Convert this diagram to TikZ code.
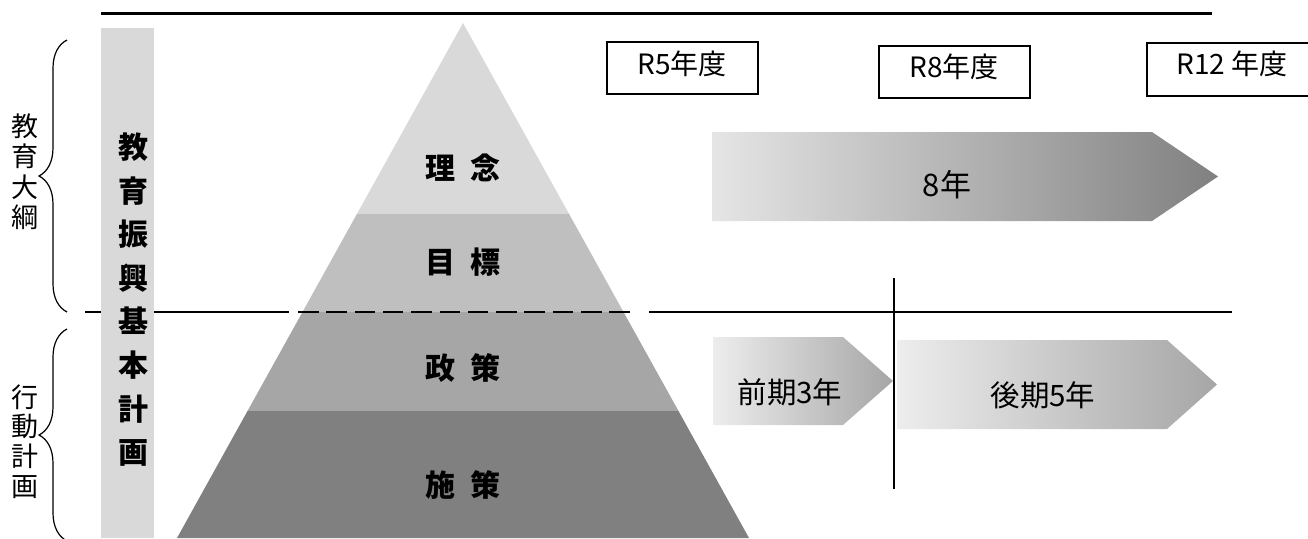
\documentclass[tikz,border=0pt]{standalone}
\usepackage{fontspec}
\setmainfont{Noto Sans CJK JP}
\usetikzlibrary{decorations.pathreplacing}
\definecolor{bandA}{HTML}{D9D9D9}
\definecolor{bandB}{HTML}{BFBFBF}
\definecolor{bandC}{HTML}{A6A6A6}
\definecolor{bandD}{HTML}{808080}
\definecolor{barcol}{HTML}{D9D9D9}
\definecolor{eightL}{HTML}{E5E5E5}
\definecolor{eightM}{HTML}{C6C6C6}
\definecolor{eightR}{HTML}{808080}
\definecolor{smallL}{HTML}{EDEDED}
\definecolor{smallM}{HTML}{D2D2D2}
\definecolor{smallR}{HTML}{A6A6A6}
\begin{document}
\begin{tikzpicture}[x=1pt,y=-1pt,
  lbl/.style={inner sep=0pt,anchor=base,text=black},
  sidelbl/.style={lbl,font=\fontsize{27}{30}\selectfont},
  boldlbl/.style={lbl,font=\fontsize{30}{32}\selectfont\bfseries},
  yearlbl/.style={lbl,font=\fontsize{28}{30}\selectfont},
  perlbl/.style={lbl,font=\fontsize{29.5}{31}\selectfont},
  yearbox/.style={draw=black,line width=1.2pt,fill=white},
  bracestyle/.style={draw=black,line width=1.2pt,decorate,decoration={brace,amplitude=28pt}},
  divline/.style={draw=black,line width=2.4pt},
  eightarrow/.style={left color=eightL,middle color=eightM,right color=eightR},
  smallarrow/.style={left color=smallL,middle color=smallM,right color=smallR}]
\useasboundingbox (0,0) rectangle (1308,538);

% top rule
\coordinate (topL) at (101,13);
\coordinate (topR) at (1212,13);
\draw[line width=3pt] (topL) -- (topR);

% left solid part of divider (behind the bar)
\coordinate (divA) at (85,312);
\coordinate (divB) at (289,312);
\draw[divline] (divA) -- (divB);

% vertical bar
\fill[barcol] (101,28) rectangle (154,538);

% pyramid bands
\coordinate (apex) at (463,23);
\coordinate (l1) at (356.9,214);  \coordinate (r1) at (569.1,214);
\coordinate (l2) at (302.5,312);  \coordinate (r2) at (623.5,312);
\coordinate (l3) at (247.5,411);  \coordinate (r3) at (678.5,411);
\coordinate (l4) at (177,538);    \coordinate (r4) at (749,538);
\fill[bandA] (apex) -- (r1) -- (l1) -- cycle;
\fill[bandB] (l1) -- (r1) -- (r2) -- (l2) -- cycle;
\fill[bandC] (l2) -- (r2) -- (r3) -- (l3) -- cycle;
\fill[bandD] (l3) -- (r3) -- (r4) -- (l4) -- cycle;

% dashed and right parts of divider
\coordinate (dashA) at (298,312);
\coordinate (dashB) at (630,312);
\draw[draw=black,line width=2.4pt,dash pattern=on 20.5pt off 7.8pt] (dashA) -- (dashB);
\coordinate (divC) at (649,312);
\coordinate (divD) at (1232,312);
\draw[divline] (divC) -- (divD);

% vertical divider
\coordinate (vT) at (894,278);
\coordinate (vB) at (894,489);
\draw[divline] (vT) -- (vB);

% pyramid labels
\node[boldlbl] (riren) at (463,{168+11.4}) {理\hspace{0.5em}念};
\node[boldlbl] (mokuhyo) at (463,{262+11.4}) {目\hspace{0.5em}標};
\node[boldlbl] (seisaku) at (463,{368+11.4}) {政\hspace{0.5em}策};
\node[boldlbl] (shisaku) at (463,{485+11.4}) {施\hspace{0.5em}策};

% bar text
\foreach \c [count=\i from 0] in {教,育,振,興,基,本,計,画}
  \node[boldlbl] (bar\i) at (133,{147+43.6*\i+11.4}) {\c};

% side labels
\foreach \c [count=\i from 0] in {教,育,大,綱}
  \node[sidelbl] (taiko\i) at (25,{126+30.4*\i+10.2}) {\c};
\foreach \c [count=\i from 0] in {行,動,計,画}
  \node[sidelbl] (kodo\i) at (25,{397+29.7*\i+10.2}) {\c};

% braces
\coordinate (b1s) at (67,312);
\coordinate (b1e) at (67,40);
\draw[bracestyle] (b1s) -- (b1e);
\coordinate (b2s) at (67,541);
\coordinate (b2e) at (67,329);
\draw[bracestyle] (b2s) -- (b2e);

% year boxes
\draw[yearbox] (607,42) rectangle (758,94);
\node[yearlbl] (r5) at (682,{64+10.6}) {R5年度};
\draw[yearbox] (879,46) rectangle (1030,98);
\node[yearlbl] (r8) at (954,{67+10.6}) {R8年度};
\draw[yearbox] (1147,43) rectangle (1318,96);
\node[yearlbl] (r12) at (1232,{64+10.6}) {R12 年度};

% 8-year arrow
\shade[eightarrow] (712,132) -- (1152,132) -- (1218,176.5) -- (1152,221) -- (712,221) -- cycle;
\node[lbl,font=\fontsize{31}{33}\selectfont] (eight) at (947,{185+11.8}) {8年};

% period arrows
\shade[smallarrow] (713,337) -- (843,337) -- (893,381) -- (843,425) -- (713,425) -- cycle;
\node[perlbl] (zenki) at (790,{392+11.2}) {前期3年};
\shade[smallarrow] (897,340) -- (1167,340) -- (1217,384.5) -- (1167,429) -- (897,429) -- cycle;
\node[perlbl] (koki) at (1043,{395+11.2}) {後期5年};
\end{tikzpicture}
\end{document}
